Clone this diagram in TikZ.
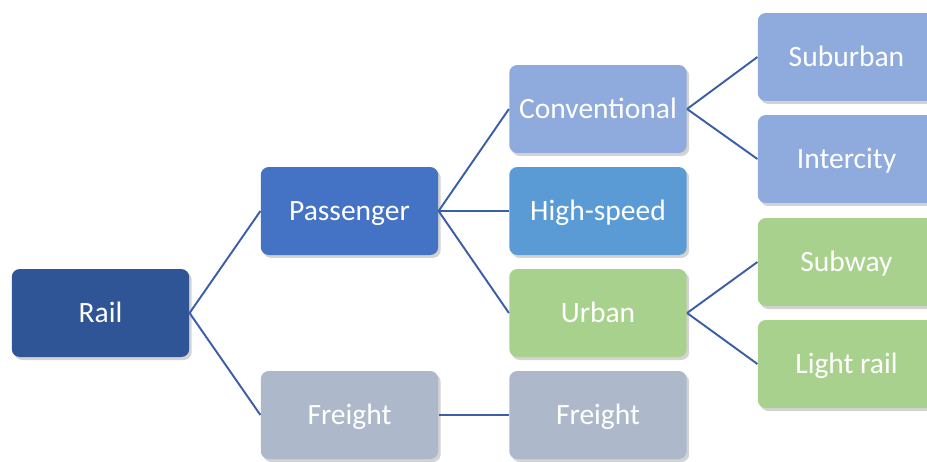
\documentclass[tikz,border=0pt]{standalone}
\usepackage{fontspec}
\setmainfont{Carlito}
\usetikzlibrary{shadows}

\definecolor{railblue}{HTML}{2F5597}
\definecolor{passblue}{HTML}{4472C4}
\definecolor{convblue}{HTML}{8FAADC}
\definecolor{hsblue}{HTML}{5B9BD5}
\definecolor{urbgreen}{HTML}{A9D18E}
\definecolor{frgray}{HTML}{ADB9CA}
\definecolor{linkblue}{RGB}{59,94,168}

\begin{document}
\begin{tikzpicture}[x=0.02cm, y=-0.02cm,
    box/.style={rectangle, rounded corners=0.16cm, minimum width=3.55cm, minimum height=1.76cm,
        text=white, font=\fontsize{16.8}{20}\selectfont, text height=11pt, text depth=0pt,
        drop shadow={opacity=0.35, shadow xshift=0.05cm, shadow yshift=-0.06cm}},
    link/.style={draw=linkblue, line width=1.1pt}]

        % canvas
        \clip (0,0) rectangle (927,461);

        % ==========================================
        % 1. root and first level
        % ==========================================
        \node[box, fill=railblue] (rail) at (100.5,313) {Rail};
        \node[box, fill=passblue] (pass) at (349.5,211) {Passenger};
        \node[box, fill=frgray] (freightA) at (349.5,415) {Freight};

        % ==========================================
        % 2. second level
        % ==========================================
        \node[box, fill=convblue] (conv) at (598,109) {Conventional};
        \node[box, fill=hsblue] (hspeed) at (598,211) {High-speed};
        \node[box, fill=urbgreen] (urban) at (598,313) {Urban};
        \node[box, fill=frgray] (freightB) at (598,415) {Freight};

        % ==========================================
        % 3. third level (cut at the right edge)
        % ==========================================
        \node[box, fill=convblue] (suburb) at (846.5,57) {Suburban};
        \node[box, fill=convblue] (intercity) at (846.5,159) {Intercity};
        \node[box, fill=urbgreen] (subway) at (846.5,262) {Subway};
        \node[box, fill=urbgreen] (lightrail) at (846.5,364) {Light rail};

        % connectors
        \draw[link] (rail.east) -- (pass.west);
        \draw[link] (rail.east) -- (freightA.west);
        \draw[link] (pass.east) -- (conv.west);
        \draw[link] (pass.east) -- (hspeed.west);
        \draw[link] (pass.east) -- (urban.west);
        \draw[link] (freightA.east) -- (freightB.west);
        \draw[link] (conv.east) -- (suburb.west);
        \draw[link] (conv.east) -- (intercity.west);
        \draw[link] (urban.east) -- (subway.west);
        \draw[link] (urban.east) -- (lightrail.west);

    \end{tikzpicture}
\end{document}
